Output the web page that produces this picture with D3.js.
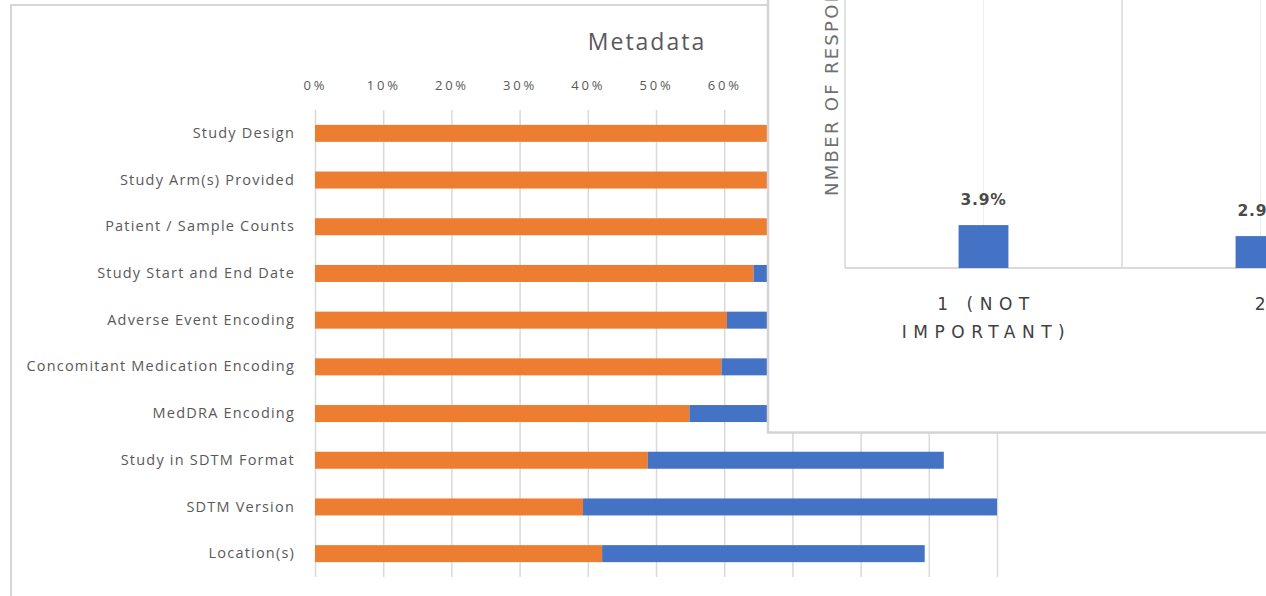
<!DOCTYPE html>
<html>
<head>
<meta charset="utf-8">
<script src="https://cdn.jsdelivr.net/npm/d3@7"></script>
<style>
  html, body { margin: 0; padding: 0; background: #fff; }
  svg { display: block; }
</style>
</head>
<body>
<svg id="chart" width="1266" height="596"></svg>
<script>
// ---- Main chart data (Metadata) ----
const categories = [
  "Study Design",
  "Study Arm(s) Provided",
  "Patient / Sample Counts",
  "Study Start and End Date",
  "Adverse Event Encoding",
  "Concomitant Medication Encoding",
  "MedDRA Encoding",
  "Study in SDTM Format",
  "SDTM Version",
  "Location(s)"
];
const orangeValues = [0.90, 0.86, 0.80, 0.643, 0.604, 0.596, 0.549, 0.488, 0.393, 0.421];
const blueValues   = [0.10, 0.12, 0.16, 0.300, 0.330, 0.350, 0.400, 0.434, 0.607, 0.473];
const xTicks = [0, 0.1, 0.2, 0.3, 0.4, 0.5, 0.6, 0.7, 0.8, 0.9, 1.0];
const title = "Metadata";

// ---- Overlay chart data ----
const overlayCategories = ["1 (NOT IMPORTANT)", "2"];
const overlayValues = [0.039, 0.029];
const overlayAxisTitle = "NMBER OF RESPONDENTS";

const ORANGE = "#ED7D31", BLUE = "#4472C4", GRID = "#d9d9d9", TEXT = "#595959";

const svg = d3.select("#chart");
svg.append("rect").attr("width", 1266).attr("height", 596).attr("fill", "#fff");

// outer frame of the main chart
const frame = svg.append("g");
frame.append("line").attr("x1", 10).attr("x2", 1266).attr("y1", 5).attr("y2", 5)
  .attr("stroke", "#d6d6d6").attr("stroke-width", 2);
frame.append("line").attr("x1", 11).attr("x2", 11).attr("y1", 4).attr("y2", 596)
  .attr("stroke", "#d6d6d6").attr("stroke-width", 2);

const x = d3.scaleLinear().domain([0, 1]).range([315, 997]);
const y = d3.scaleBand().domain(categories).range([110, 577]).paddingInner(0.636).paddingOuter(0.318);

// title
svg.append("text").attr("x", 647).attr("y", 50).attr("text-anchor", "middle")
  .attr("font-family", "Open Sans, sans-serif").attr("font-size", 23)
  .attr("letter-spacing", 2)
  .attr("fill", TEXT).text(title);

// x axis with gridlines
const xAxis = svg.append("g").attr("transform", "translate(0,110)")
  .call(d3.axisTop(x).tickValues(xTicks).tickFormat(d3.format(".0%"))
    .tickSizeInner(-(577 - 110)).tickSizeOuter(0).tickPadding(20));
xAxis.select(".domain").remove();
xAxis.selectAll(".tick line").attr("stroke", GRID).attr("stroke-width", 1.5);
xAxis.selectAll(".tick text").attr("font-family", "Open Sans, sans-serif")
  .attr("font-size", 13).attr("letter-spacing", 2.8).attr("fill", TEXT);

// y axis labels
const yAxis = svg.append("g").attr("transform", "translate(315,0)")
  .call(d3.axisLeft(y).tickSize(0).tickPadding(20));
yAxis.select(".domain").remove();
yAxis.selectAll(".tick text").attr("font-family", "Open Sans, sans-serif")
  .attr("font-size", 14.5).attr("letter-spacing", 1.2).attr("fill", TEXT);

// stacked bars
const rows = categories.map((c, i) => ({ c, a: orangeValues[i], b: blueValues[i] }));
svg.append("g").selectAll("rect").data(rows).join("rect")
  .attr("x", d => x(0)).attr("y", d => y(d.c))
  .attr("width", d => x(d.a) - x(0)).attr("height", y.bandwidth())
  .attr("fill", ORANGE);
svg.append("g").selectAll("rect").data(rows).join("rect")
  .attr("x", d => x(d.a)).attr("y", d => y(d.c))
  .attr("width", d => x(d.a + d.b) - x(d.a)).attr("height", y.bandwidth())
  .attr("fill", BLUE);

// ---- Overlay panel ----
const ov = svg.append("g");
ov.append("rect").attr("x", 768).attr("y", -10).attr("width", 520).attr("height", 442.5)
  .attr("fill", "#fff").attr("stroke", "#d4d4d4").attr("stroke-width", 2.5);

const x2 = d3.scaleBand().domain(overlayCategories).range([845, 1399]);
const y2 = d3.scaleLinear().domain([0, 0.25]).range([268, -7]);

// category separators and center gridlines
ov.selectAll("line.sep").data(overlayCategories).join("line").attr("class", "sep")
  .attr("x1", d => x2(d) + x2.bandwidth()).attr("x2", d => x2(d) + x2.bandwidth())
  .attr("y1", 0).attr("y2", y2(0)).attr("stroke", GRID).attr("stroke-width", 1.5);
ov.selectAll("line.mid").data(overlayCategories).join("line").attr("class", "mid")
  .attr("x1", d => x2(d) + x2.bandwidth() / 2).attr("x2", d => x2(d) + x2.bandwidth() / 2)
  .attr("y1", 0).attr("y2", y2(0)).attr("stroke", "#ededed").attr("stroke-width", 1);
// left axis line and baseline
ov.append("line").attr("x1", 845).attr("x2", 845).attr("y1", 0).attr("y2", y2(0))
  .attr("stroke", GRID).attr("stroke-width", 1.5);
ov.append("line").attr("x1", 845).attr("x2", 1266).attr("y1", y2(0)).attr("y2", y2(0))
  .attr("stroke", GRID).attr("stroke-width", 2);

const barW = x2.bandwidth() * 0.18;
ov.selectAll("rect.bar").data(overlayCategories).join("rect").attr("class", "bar")
  .attr("x", d => x2(d) + (x2.bandwidth() - barW) / 2)
  .attr("y", (d, i) => y2(overlayValues[i]))
  .attr("width", barW).attr("height", (d, i) => y2(0) - y2(overlayValues[i]))
  .attr("fill", BLUE);

ov.selectAll("text.val").data(overlayCategories).join("text").attr("class", "val")
  .attr("x", d => x2(d) + x2.bandwidth() / 2)
  .attr("y", (d, i) => y2(overlayValues[i]) - 20)
  .attr("text-anchor", "middle")
  .attr("font-family", "DejaVu Sans, sans-serif").attr("font-size", 15.5).attr("font-weight", "bold")
  .attr("letter-spacing", 0.8)
  .attr("fill", "#4a4a4a")
  .text((d, i) => d3.format(".1%")(overlayValues[i]));

// category labels (wrapped)
ov.selectAll("text.cat").data(overlayCategories).join("text").attr("class", "cat")
  .attr("text-anchor", "middle")
  .attr("font-family", "DejaVu Sans, sans-serif").attr("font-size", 17)
  .attr("letter-spacing", 6.5).attr("fill", "#404040")
  .each(function(d) {
    const cx = x2(d) + x2.bandwidth() / 2 + 3;
    const m = d.match(/^(\S+ \(\S+)\s+(.*)$/);
    const lines = m ? [m[1], m[2]] : [d];
    d3.select(this).selectAll("tspan").data(lines).join("tspan")
      .attr("x", cx).attr("y", (l, j) => 310 + j * 28).text(l => l);
  });

// y axis title
ov.append("text")
  .attr("transform", "translate(838,196) rotate(-90)")
  .attr("text-anchor", "start")
  .attr("font-family", "DejaVu Sans, sans-serif").attr("font-size", 18)
  .attr("letter-spacing", 2.3).attr("fill", "#6f6f6f")
  .text(overlayAxisTitle);
</script>
</body>
</html>
